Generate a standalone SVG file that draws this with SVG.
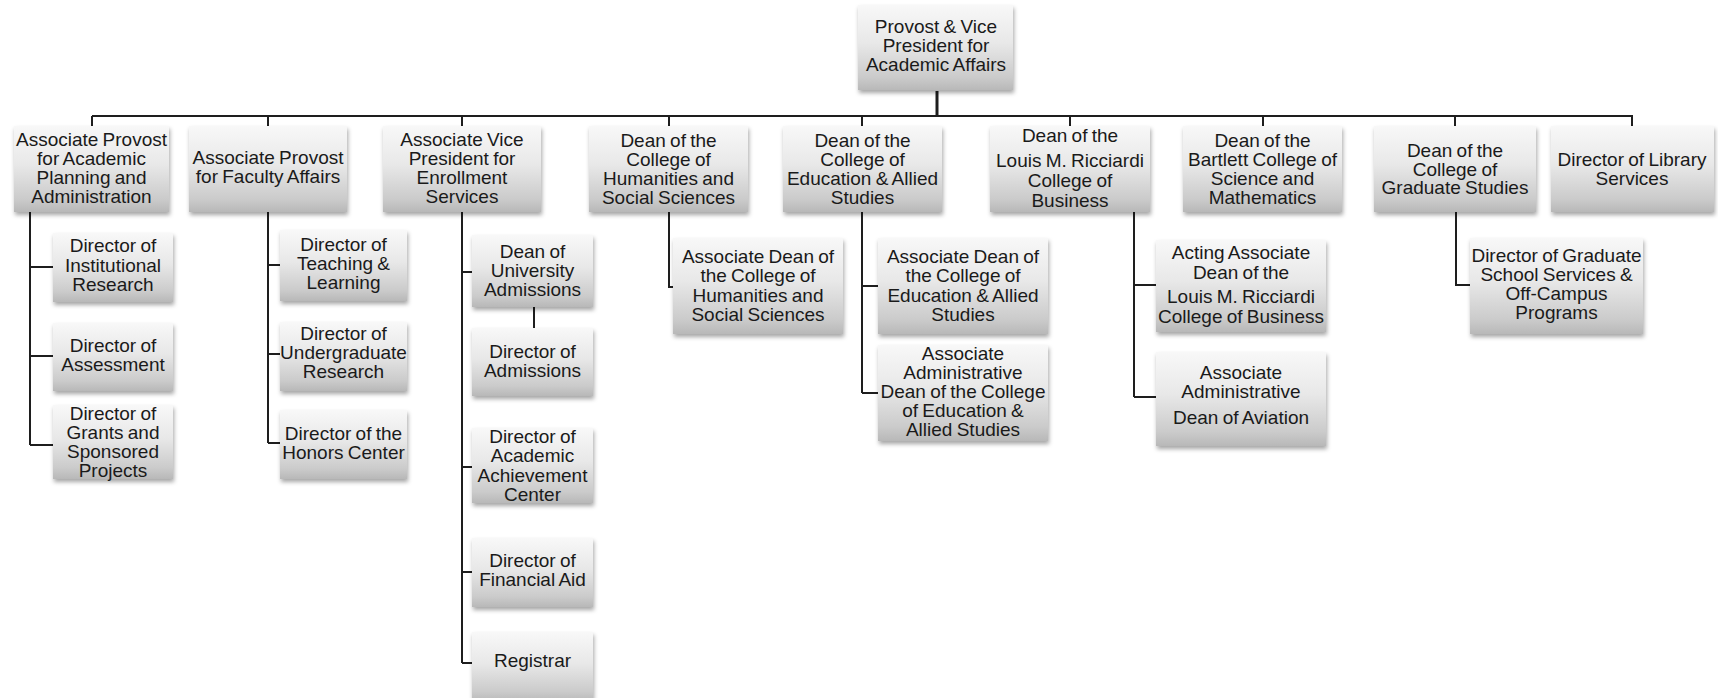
<svg xmlns="http://www.w3.org/2000/svg" width="1718" height="698" viewBox="0 0 1718 698">
<defs>
<linearGradient id="g" x1="0" y1="0" x2="0" y2="1">
<stop offset="0" stop-color="#f8f8f8"/>
<stop offset="0.45" stop-color="#e8e8e8"/>
<stop offset="0.85" stop-color="#cbcbcb"/>
<stop offset="1" stop-color="#b8b8b8"/>
</linearGradient>
<filter id="sh" x="-10%" y="-10%" width="125%" height="135%">
<feDropShadow dx="1" dy="3" stdDeviation="2.2" flood-color="#000" flood-opacity="0.35"/>
</filter>
<style>
.box{fill:url(#g);filter:url(#sh);}
.t{font-family:"Liberation Sans",Arial,sans-serif;font-size:19px;word-spacing:-1px;fill:#1a1a1a;text-anchor:middle;}
.c{stroke:#1e1e1e;stroke-width:2;fill:none;}
.ct{stroke:#1e1e1e;stroke-width:3;fill:none;}
</style>
</defs>
<rect width="1718" height="698" fill="#ffffff"/>

<g id="connectors">
<path class="ct" d="M937 91 V117"/>
<path class="c" d="M92 116 H1633"/>
<path class="c" d="M92 116 V126 M268 116 V126 M462 116 V126 M669 116 V126 M862 116 V126 M1070 116 V126 M1263 116 V126 M1455 116 V126 M1632 116 V126"/>
<path class="c" d="M30 212 V445 M30 267 H53 M30 356 H53 M30 445 H53"/>
<path class="c" d="M268 212 V443 M268 265 H280 M268 354 H280 M268 443 H280"/>
<path class="c" d="M462 212 V663 M462 272 H472 M462 467 H472 M462 572 H472 M462 663 H472"/>
<path class="c" d="M534 307 V328"/>
<path class="c" d="M669 212 V287 H673"/>
<path class="c" d="M862 212 V393 M862 286 H878 M862 393 H878"/>
<path class="c" d="M1134 212 V397 M1134 285 H1156 M1134 397 H1156"/>
<path class="c" d="M1456 212 V285 H1470"/>
</g>

<g id="provost">
<rect class="box" x="858" y="5" width="155" height="85"/>
<text class="t" x="936" y="33">Provost &amp; Vice</text>
<text class="t" x="936" y="52">President for</text>
<text class="t" x="936" y="71">Academic Affairs</text>
</g>

<g id="ap-academic">
<rect class="box" x="14" y="126" width="155" height="86"/>
<text class="t" x="91.5" y="146">Associate Provost</text>
<text class="t" x="91.5" y="165">for Academic</text>
<text class="t" x="91.5" y="184">Planning and</text>
<text class="t" x="91.5" y="203">Administration</text>
</g>

<g id="ap-faculty">
<rect class="box" x="189" y="126" width="158" height="86"/>
<text class="t" x="268" y="164">Associate Provost</text>
<text class="t" x="268" y="183">for Faculty Affairs</text>
</g>

<g id="avp-enrollment">
<rect class="box" x="383" y="126" width="158" height="86"/>
<text class="t" x="462" y="146">Associate Vice</text>
<text class="t" x="462" y="165">President for</text>
<text class="t" x="462" y="184">Enrollment</text>
<text class="t" x="462" y="203">Services</text>
</g>

<g id="dean-humanities">
<rect class="box" x="589" y="126" width="159" height="86"/>
<text class="t" x="668.5" y="147">Dean of the</text>
<text class="t" x="668.5" y="166">College of</text>
<text class="t" x="668.5" y="185">Humanities and</text>
<text class="t" x="668.5" y="204">Social Sciences</text>
</g>

<g id="dean-education">
<rect class="box" x="783" y="126" width="159" height="86"/>
<text class="t" x="862.5" y="147">Dean of the</text>
<text class="t" x="862.5" y="166">College of</text>
<text class="t" x="862.5" y="185">Education &amp; Allied</text>
<text class="t" x="862.5" y="204">Studies</text>
</g>

<g id="dean-business">
<rect class="box" x="990" y="126" width="160" height="86"/>
<text class="t" x="1070" y="142">Dean of the</text>
<text class="t" x="1070" y="167">Louis M. Ricciardi</text>
<text class="t" x="1070" y="187">College of</text>
<text class="t" x="1070" y="207">Business</text>
</g>

<g id="dean-bartlett">
<rect class="box" x="1183" y="126" width="159" height="86"/>
<text class="t" x="1262.5" y="147">Dean of the</text>
<text class="t" x="1262.5" y="166">Bartlett College of</text>
<text class="t" x="1262.5" y="185">Science and</text>
<text class="t" x="1262.5" y="204">Mathematics</text>
</g>

<g id="dean-graduate">
<rect class="box" x="1374" y="126" width="162" height="86"/>
<text class="t" x="1455" y="157">Dean of the</text>
<text class="t" x="1455" y="176">College of</text>
<text class="t" x="1455" y="194">Graduate Studies</text>
</g>

<g id="dir-library">
<rect class="box" x="1551" y="126" width="163" height="86"/>
<text class="t" x="1632" y="166">Director of Library</text>
<text class="t" x="1632" y="185">Services</text>
</g>

<g id="dir-institutional">
<rect class="box" x="53" y="233" width="120" height="69"/>
<text class="t" x="113" y="252">Director of</text>
<text class="t" x="113" y="272">Institutional</text>
<text class="t" x="113" y="291">Research</text>
</g>

<g id="dir-assessment">
<rect class="box" x="53" y="323" width="120" height="68"/>
<text class="t" x="113" y="352">Director of</text>
<text class="t" x="113" y="371">Assessment</text>
</g>

<g id="dir-grants">
<rect class="box" x="53" y="405" width="120" height="74"/>
<text class="t" x="113" y="420">Director of</text>
<text class="t" x="113" y="439">Grants and</text>
<text class="t" x="113" y="458">Sponsored</text>
<text class="t" x="113" y="477">Projects</text>
</g>

<g id="dir-teaching">
<rect class="box" x="280" y="230" width="127" height="71"/>
<text class="t" x="343.5" y="251">Director of</text>
<text class="t" x="343.5" y="270">Teaching &amp;</text>
<text class="t" x="343.5" y="289">Learning</text>
</g>

<g id="dir-undergrad">
<rect class="box" x="280" y="322" width="127" height="69"/>
<text class="t" x="343.5" y="340">Director of</text>
<text class="t" x="343.5" y="359">Undergraduate</text>
<text class="t" x="343.5" y="378">Research</text>
</g>

<g id="dir-honors">
<rect class="box" x="280" y="410" width="127" height="69"/>
<text class="t" x="343.5" y="440">Director of the</text>
<text class="t" x="343.5" y="459">Honors Center</text>
</g>

<g id="dean-admissions">
<rect class="box" x="472" y="235" width="121" height="72"/>
<text class="t" x="532.5" y="258">Dean of</text>
<text class="t" x="532.5" y="277">University</text>
<text class="t" x="532.5" y="296">Admissions</text>
</g>

<g id="dir-admissions">
<rect class="box" x="472" y="328" width="121" height="68"/>
<text class="t" x="532.5" y="358">Director of</text>
<text class="t" x="532.5" y="377">Admissions</text>
</g>

<g id="dir-achievement">
<rect class="box" x="472" y="428" width="121" height="75"/>
<text class="t" x="532.5" y="443">Director of</text>
<text class="t" x="532.5" y="462">Academic</text>
<text class="t" x="532.5" y="482">Achievement</text>
<text class="t" x="532.5" y="501">Center</text>
</g>

<g id="dir-finaid">
<rect class="box" x="472" y="538" width="121" height="69"/>
<text class="t" x="532.5" y="567">Director of</text>
<text class="t" x="532.5" y="586">Financial Aid</text>
</g>

<g id="registrar">
<rect class="box" x="472" y="632" width="121" height="70"/>
<text class="t" x="532.5" y="667">Registrar</text>
</g>

<g id="assoc-dean-humanities">
<rect class="box" x="673" y="238" width="170" height="96"/>
<text class="t" x="758" y="263">Associate Dean of</text>
<text class="t" x="758" y="282">the College of</text>
<text class="t" x="758" y="302">Humanities and</text>
<text class="t" x="758" y="321">Social Sciences</text>
</g>

<g id="assoc-dean-education">
<rect class="box" x="878" y="238" width="170" height="96"/>
<text class="t" x="963" y="263">Associate Dean of</text>
<text class="t" x="963" y="282">the College of</text>
<text class="t" x="963" y="302">Education &amp; Allied</text>
<text class="t" x="963" y="321">Studies</text>
</g>

<g id="assoc-admin-dean-education">
<rect class="box" x="878" y="345" width="170" height="96"/>
<text class="t" x="963" y="360">Associate</text>
<text class="t" x="963" y="379">Administrative</text>
<text class="t" x="963" y="398">Dean of the College</text>
<text class="t" x="963" y="417">of Education &amp;</text>
<text class="t" x="963" y="436">Allied Studies</text>
</g>

<g id="acting-assoc-dean-business">
<rect class="box" x="1156" y="240" width="170" height="92"/>
<text class="t" x="1241" y="259">Acting Associate</text>
<text class="t" x="1241" y="279">Dean of the</text>
<text class="t" x="1241" y="303">Louis M. Ricciardi</text>
<text class="t" x="1241" y="323">College of Business</text>
</g>

<g id="assoc-admin-dean-aviation">
<rect class="box" x="1156" y="352" width="170" height="94"/>
<text class="t" x="1241" y="379">Associate</text>
<text class="t" x="1241" y="398">Administrative</text>
<text class="t" x="1241" y="424">Dean of Aviation</text>
</g>

<g id="dir-grad-services">
<rect class="box" x="1470" y="238" width="173" height="96"/>
<text class="t" x="1556.5" y="262">Director of Graduate</text>
<text class="t" x="1556.5" y="281">School Services &amp;</text>
<text class="t" x="1556.5" y="300">Off-Campus</text>
<text class="t" x="1556.5" y="319">Programs</text>
</g>
</svg>
